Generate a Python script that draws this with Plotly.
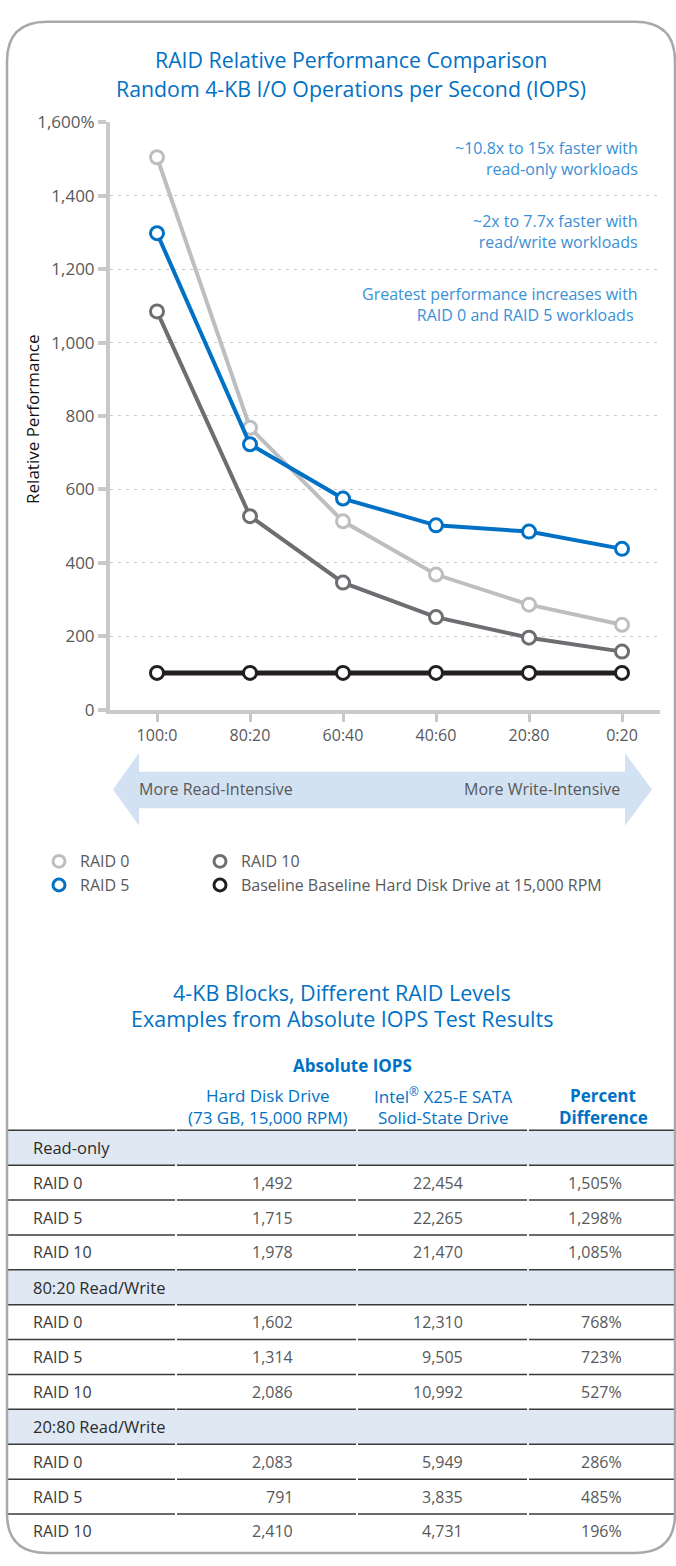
import plotly.graph_objects as go

W, H = 676, 1566
def px(x): return x / W
def py(y): return 1 - y / H

# ---------------- data ----------------
mixes = ["100:0", "80:20", "60:40", "40:60", "20:80", "0:20"]
raid0 = [1505, 768, 513, 368, 286, 231]
raid5 = [1298, 723, 575, 502, 485, 438]
raid10 = [1085, 527, 346, 252, 196, 158]
baseline = [100, 100, 100, 100, 100, 100]

y_tickvals = [0, 200, 400, 600, 800, 1000, 1200, 1400, 1600]
y_ticktext = ["0", "200", "400", "600", "800", "1,000", "1,200", "1,400", "1,600%"]

series_names = ["RAID 0", "RAID 5", "RAID 10", "Baseline Baseline Hard Disk Drive at 15,000 RPM"]
series_colors = ["#bcbec0", "#0071c5", "#6d6e71", "#231f20"]

notes = [
    ["~10.8x to 15x faster with", "read-only workloads"],
    ["~2x to 7.7x faster with", "read/write workloads"],
    ["Greatest performance increases with", "RAID 0 and RAID 5 workloads\u00a0"],
]

sections = ["Read-only", "80:20 Read/Write", "20:80 Read/Write"]
raid_levels = ["RAID 0", "RAID 5", "RAID 10"]
hdd_iops = [[1492, 1715, 1978], [1602, 1314, 2086], [2083, 791, 2410]]
ssd_iops = [[22454, 22265, 21470], [12310, 9505, 10992], [5949, 3835, 4731]]
pct_diff = [[1505, 1298, 1085], [768, 723, 527], [286, 485, 196]]

FONT = "Open Sans, Roboto, DejaVu Sans, sans-serif"
BLUE = "#0071c5"
LBLUE = "#3a90d6"
TXT = "#58595b"

fig = go.Figure()

order = [2, 0, 1, 3]
data = [raid0, raid5, raid10, baseline]
widths = [4, 4, 4, 5]
for i in order:
    fig.add_trace(go.Scatter(
        x=mixes, y=data[i], mode="lines+markers", name=series_names[i],
        line=dict(color=series_colors[i], width=widths[i]),
        marker=dict(symbol="circle", size=13, color="white",
                    line=dict(color=series_colors[i], width=3)),
        showlegend=False, cliponaxis=False,
    ))

x0 = -(157 - 110) / 93
x1 = 5 + (660 - 622) / 93
fig.update_xaxes(
    type="category", range=[x0, x1], domain=[px(110), px(660)],
    showline=True, linecolor="#c8c9cb", linewidth=4,
    ticks="outside", ticklen=8, tickwidth=3, tickcolor="#c8c9cb",
    showgrid=False, zeroline=False,
    tickfont=dict(family=FONT, size=16, color=TXT),
    fixedrange=True,
)
fig.update_yaxes(
    range=[0, 1600], domain=[py(708), py(112)],
    tickvals=y_tickvals, ticktext=y_ticktext,
    showline=True, linecolor="#c8c9cb", linewidth=4,
    ticks="outside", ticklen=8, tickwidth=4, tickcolor="#c8c9cb",
    showgrid=True, gridcolor="#c9c9c9", gridwidth=1, griddash="3px,5px",
    zeroline=False,
    tickfont=dict(family=FONT, size=17, color=TXT),
    fixedrange=True,
)

ann = []
shapes = []

def text(x, y, s, size=16, color=TXT, xanchor="center", bold=False, angle=0):
    if bold:
        s = "<b>" + s + "</b>"
    ann.append(dict(x=px(x), y=py(y), xref="paper", yref="paper", text=s,
                    showarrow=False, xanchor=xanchor, yanchor="middle",
                    textangle=angle, align="right" if xanchor == "right" else "left",
                    font=dict(family=FONT, size=size, color=color)))

text(351, 48, "RAID Relative Performance Comparison", size=21.3, color=BLUE)
text(351, 78, "Random 4-KB I/O Operations per Second (IOPS)", size=21.3, color=BLUE)
text(33, 413, "Relative Performance", size=17, color="#111111", angle=-90)

note_y = [149, 223, 297]
for (l1, l2), yy in zip(notes, note_y):
    text(640, yy, l1 + "<br>" + l2, size=16, color=LBLUE, xanchor="right")

pts = [(113, 789), (139, 752), (139, 771), (625, 771), (625, 752), (652, 789),
       (625, 826), (625, 808), (139, 808), (139, 826)]
path = "M " + " L ".join(f"{px(a):.5f},{py(b):.5f}" for a, b in pts) + " Z"
shapes.append(dict(type="path", xref="paper", yref="paper", path=path,
                   fillcolor="#d3e2f2", line=dict(width=0), layer="below"))
text(137, 789, "More Read-Intensive", size=16, color=TXT, xanchor="left")
text(622, 789, "More Write-Intensive", size=16, color=TXT, xanchor="right")

leg_pos = [(59, 862), (59, 886), (220, 862), (220, 886)]
for i, (lx, ly) in enumerate(leg_pos):
    r = 6
    shapes.append(dict(type="circle", xref="paper", yref="paper",
                       x0=px(lx - r), x1=px(lx + r), y0=py(ly + r), y1=py(ly - r),
                       fillcolor="white", line=dict(color=series_colors[i], width=3)))
    text(lx + 19, ly, series_names[i], size=16, color=TXT, xanchor="left")

text(342, 995, "4-KB Blocks, Different RAID Levels", size=21.5, color=BLUE)
text(342, 1021, "Examples from Absolute IOPS Test Results", size=21.5, color=BLUE)
text(352, 1069, "Absolute IOPS", size=17, color=BLUE, bold=True)
text(267, 1100, "Hard Disk Drive", size=17, color=BLUE)
text(267, 1122, "(73 GB, 15,000 RPM)", size=17, color=BLUE)
text(443, 1100, "Intel<sup>®</sup> X25-E SATA", size=17, color=BLUE)
text(443, 1122, "Solid-State Drive", size=17, color=BLUE)
text(603, 1100, "Percent", size=17, color=BLUE, bold=True)
text(603, 1122, "Difference", size=17, color=BLUE, bold=True)

top = 1135
rh = 35.4
col_bounds = [8, 176, 357, 528, 676]

def hline(y):
    for a, b in zip(col_bounds[:-1], col_bounds[1:]):
        shapes.append(dict(type="line", xref="paper", yref="paper",
                           x0=px(a + (1 if a > 8 else 0)), x1=px(b - 1),
                           y0=py(y), y1=py(y), line=dict(color="#3a3a3a", width=1.5)))

row = 0
for s, sec in enumerate(sections):
    y_top = top + rh * row
    shapes.append(dict(type="rect", xref="paper", yref="paper",
                       x0=px(8), x1=px(676), y0=py(y_top + rh), y1=py(y_top),
                       fillcolor="#dfe8f3", line=dict(width=0), layer="below"))
    hline(y_top)
    text(31, y_top + rh / 2, sec, size=16.5, color="#2b2b2b", xanchor="left")
    row += 1
    for r, lvl in enumerate(raid_levels):
        y_top = top + rh * row
        hline(y_top)
        yc = y_top + rh / 2
        text(31, yc, lvl, size=16, color="#3a3a3a", xanchor="left")
        text(295, yc, f"{hdd_iops[s][r]:,}", size=16, color=TXT, xanchor="right")
        text(465, yc, f"{ssd_iops[s][r]:,}", size=16, color=TXT, xanchor="right")
        text(624, yc, f"{pct_diff[s][r]:,}%", size=16, color=TXT, xanchor="right")
        row += 1

R = 40
L, T, Rt, B = 7, 10, 675, 1564
frame = (f"M {px(L+R)},{py(T)} L {px(Rt-R)},{py(T)} Q {px(Rt)},{py(T)} {px(Rt)},{py(T+R)} "
         f"L {px(Rt)},{py(B-R)} Q {px(Rt)},{py(B)} {px(Rt-R)},{py(B)} "
         f"L {px(L+R)},{py(B)} Q {px(L)},{py(B)} {px(L)},{py(B-R)} "
         f"L {px(L)},{py(T+R)} Q {px(L)},{py(T)} {px(L+R)},{py(T)} Z")
shapes.append(dict(type="path", xref="paper", yref="paper", path=frame,
                   line=dict(color="#a7a9ac", width=2.5), fillcolor="rgba(0,0,0,0)"))

fig.update_layout(
    width=W, height=H, margin=dict(l=0, r=0, t=0, b=0),
    paper_bgcolor="white", plot_bgcolor="white",
    annotations=ann, shapes=shapes, showlegend=False,
    font=dict(family=FONT),
)

fig.write_html("out.html", config={"displayModeBar": False},
               post_script="document.body.style.margin='0';document.body.style.padding='0';document.body.style.overflow='hidden';document.documentElement.style.overflow='hidden';")
